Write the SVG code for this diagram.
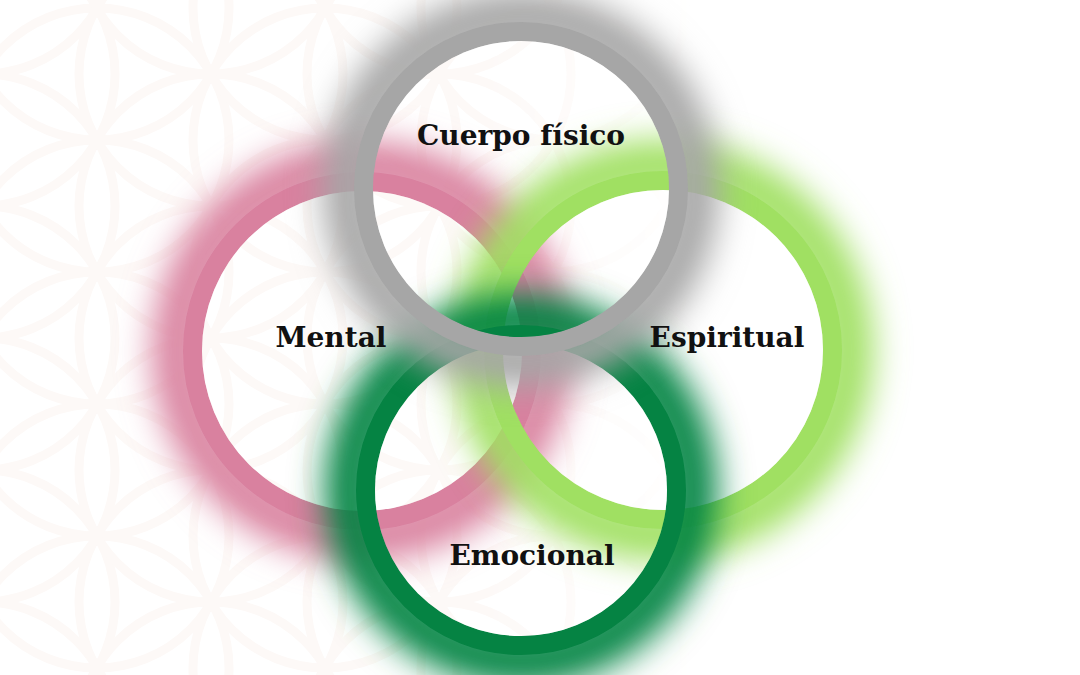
<svg xmlns="http://www.w3.org/2000/svg" width="1080" height="675" viewBox="0 0 1080 675">
  <style>
    .fol { fill: none; stroke: #FDF9F7; stroke-width: 9; }
    .glow { fill: none; stroke-width: 50; filter: url(#blur); }
    .solid { fill: none; stroke-width: 19; }
    .pink { stroke: #D9819F; }
    .lgreen { stroke: #A0E062; }
    .dgreen { stroke: #058343; }
    .gray { stroke: #A6A6A6; }
    .label { font-family: "DejaVu Serif", "Liberation Serif", serif; font-weight: bold; font-size: 28px; fill: #111111; text-anchor: middle; }
  </style>
  <defs>
    <filter id="blur" x="-50%" y="-50%" width="200%" height="200%">
      <feGaussianBlur stdDeviation="17"/>
    </filter>
    <linearGradient id="fadeGrad" gradientUnits="userSpaceOnUse" x1="480" y1="0" x2="700" y2="0">
      <stop offset="0" stop-color="#fff"/>
      <stop offset="1" stop-color="#000"/>
    </linearGradient>
    <mask id="fade" maskUnits="userSpaceOnUse" x="0" y="0" width="1080" height="675">
      <rect width="1080" height="675" fill="url(#fadeGrad)"/>
    </mask>
    <mask id="m-mental" maskUnits="userSpaceOnUse" x="-100" y="-100" width="1280" height="875">
      <rect x="-100" y="-100" width="1280" height="875" fill="#fff"/>
      <circle cx="362" cy="351" r="160" fill="#000"/>
    </mask>
    <mask id="m-espiritual" maskUnits="userSpaceOnUse" x="-100" y="-100" width="1280" height="875">
      <rect x="-100" y="-100" width="1280" height="875" fill="#fff"/>
      <circle cx="663" cy="350" r="160" fill="#000"/>
    </mask>
    <mask id="m-emocional" maskUnits="userSpaceOnUse" x="-100" y="-100" width="1280" height="875">
      <rect x="-100" y="-100" width="1280" height="875" fill="#fff"/>
      <circle cx="521" cy="490" r="146" fill="#000"/>
    </mask>
    <mask id="m-cuerpo" maskUnits="userSpaceOnUse" x="-100" y="-100" width="1280" height="875">
      <rect x="-100" y="-100" width="1280" height="875" fill="#fff"/>
      <circle cx="521" cy="189" r="148" fill="#000"/>
    </mask>
  </defs>

  <rect width="1080" height="675" fill="#ffffff"/>

  <!-- background flower-of-life pattern -->
  <g id="background-pattern" mask="url(#fade)">
    <circle class="fol" cx="-17" cy="-58" r="132"/>
    <circle class="fol" cx="-17" cy="74" r="132"/>
    <circle class="fol" cx="-17" cy="206" r="132"/>
    <circle class="fol" cx="-17" cy="338" r="132"/>
    <circle class="fol" cx="-17" cy="470" r="132"/>
    <circle class="fol" cx="-17" cy="602" r="132"/>
    <circle class="fol" cx="-17" cy="734" r="132"/>
    <circle class="fol" cx="97" cy="8" r="132"/>
    <circle class="fol" cx="97" cy="140" r="132"/>
    <circle class="fol" cx="97" cy="272" r="132"/>
    <circle class="fol" cx="97" cy="404" r="132"/>
    <circle class="fol" cx="97" cy="536" r="132"/>
    <circle class="fol" cx="97" cy="668" r="132"/>
    <circle class="fol" cx="211" cy="-58" r="132"/>
    <circle class="fol" cx="211" cy="74" r="132"/>
    <circle class="fol" cx="211" cy="206" r="132"/>
    <circle class="fol" cx="211" cy="338" r="132"/>
    <circle class="fol" cx="211" cy="470" r="132"/>
    <circle class="fol" cx="211" cy="602" r="132"/>
    <circle class="fol" cx="211" cy="734" r="132"/>
    <circle class="fol" cx="325" cy="8" r="132"/>
    <circle class="fol" cx="325" cy="140" r="132"/>
    <circle class="fol" cx="325" cy="272" r="132"/>
    <circle class="fol" cx="325" cy="404" r="132"/>
    <circle class="fol" cx="325" cy="536" r="132"/>
    <circle class="fol" cx="325" cy="668" r="132"/>
    <circle class="fol" cx="439" cy="-58" r="132"/>
    <circle class="fol" cx="439" cy="74" r="132"/>
    <circle class="fol" cx="439" cy="206" r="132"/>
    <circle class="fol" cx="439" cy="338" r="132"/>
    <circle class="fol" cx="439" cy="470" r="132"/>
    <circle class="fol" cx="439" cy="602" r="132"/>
    <circle class="fol" cx="439" cy="734" r="132"/>
    <circle class="fol" cx="553" cy="8" r="132"/>
    <circle class="fol" cx="553" cy="140" r="132"/>
    <circle class="fol" cx="553" cy="272" r="132"/>
    <circle class="fol" cx="553" cy="404" r="132"/>
    <circle class="fol" cx="553" cy="536" r="132"/>
    <circle class="fol" cx="553" cy="668" r="132"/>
  </g>

  <!-- nodes (rings), bottom to top -->
  <g id="node-mental" mask="url(#m-mental)">
    <circle class="glow pink" cx="362" cy="351" r="185"/>
    <circle class="solid pink" cx="362" cy="351" r="169.5"/>
  </g>
  <g id="node-espiritual" mask="url(#m-espiritual)">
    <circle class="glow lgreen" cx="663" cy="350" r="185"/>
    <circle class="solid lgreen" cx="663" cy="350" r="169.5"/>
  </g>
  <g id="node-emocional" mask="url(#m-emocional)">
    <circle class="glow dgreen" cx="521" cy="490" r="171"/>
    <circle class="solid dgreen" cx="521" cy="490" r="155.5"/>
  </g>
  <g id="node-cuerpo" mask="url(#m-cuerpo)">
    <circle class="glow gray" cx="521" cy="189" r="173"/>
    <circle class="solid gray" cx="521" cy="189" r="157.5"/>
  </g>

  <g id="connectors"/>

  <g id="labels">
    <text id="label-cuerpo" class="label" x="521" y="145">Cuerpo físico</text>
    <text id="label-mental" class="label" x="331" y="347">Mental</text>
    <text id="label-espiritual" class="label" x="727" y="347">Espiritual</text>
    <text id="label-emocional" class="label" x="532" y="565">Emocional</text>
  </g>
</svg>
